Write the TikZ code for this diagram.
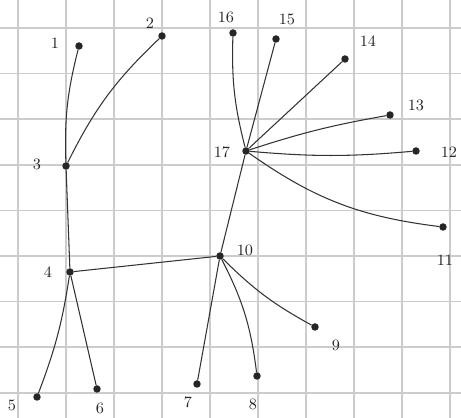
\documentclass[tikz,border=0pt]{standalone}
\usetikzlibrary{positioning}
\begin{document}
\begin{tikzpicture}[x=0.02cm,y=-0.02cm]
\tikzset{
  treenode/.style={circle,fill=black!85,inner sep=0pt,minimum size=1.5mm},
  treeedge/.style={draw=black!80,line width=0.6pt,line cap=round},
  nodelabel/.style={font=\small,text=black!85,inner sep=1pt},
  gridline/.style={draw=black!20,line width=1pt}
}
\useasboundingbox (0,0) rectangle (461,418);
% squared paper
\foreach \gx in {18,66,114,162,210,258,306,354,402,450}
  \draw[gridline] (\gx,0) -- (\gx,418);
\foreach \gy in {28,73.6,119.2,164.8,210.4,256,301.6,347.2,392.8}
  \draw[gridline] (0,\gy) -- (461,\gy);
% vertices
\node[treenode] (n_1) at (79,46) {};
\node[treenode] (n_2) at (162,36) {};
\node[treenode] (n_3) at (66,166) {};
\node[treenode] (n_4) at (70,272) {};
\node[treenode] (n_5) at (37,397) {};
\node[treenode] (n_6) at (97,389) {};
\node[treenode] (n_7) at (197,384) {};
\node[treenode] (n_8) at (257,376) {};
\node[treenode] (n_9) at (315,327) {};
\node[treenode] (n_10) at (220,256) {};
\node[treenode] (n_11) at (443,227) {};
\node[treenode] (n_12) at (416,151) {};
\node[treenode] (n_13) at (390,115) {};
\node[treenode] (n_14) at (345,59) {};
\node[treenode] (n_15) at (276,39) {};
\node[treenode] (n_16) at (233,33) {};
\node[treenode] (n_17) at (246,151) {};
% labels
\node[nodelabel] (l_1) at (55,43) {1};
\node[nodelabel] (l_2) at (150,23) {2};
\node[nodelabel] (l_3) at (37,164) {3};
\node[nodelabel] (l_4) at (48,272) {4};
\node[nodelabel] (l_5) at (12,405) {5};
\node[nodelabel] (l_6) at (100,408) {6};
\node[nodelabel] (l_7) at (188,402) {7};
\node[nodelabel] (l_8) at (253,404) {8};
\node[nodelabel] (l_9) at (336,345) {9};
\node[nodelabel] (l_10) at (245,250) {10};
\node[nodelabel] (l_11) at (445,260) {11};
\node[nodelabel] (l_12) at (449,152) {12};
\node[nodelabel] (l_13) at (416,105) {13};
\node[nodelabel] (l_14) at (368,41) {14};
\node[nodelabel] (l_15) at (287,19) {15};
\node[nodelabel] (l_16) at (226,17) {16};
\node[nodelabel] (l_17) at (222,152) {17};
% edges
\draw[treeedge] (n_1) to[bend right=8] (n_3);
\draw[treeedge] (n_2) to[bend right=10] (n_3);
\draw[treeedge] (n_3) -- (n_4);
\draw[treeedge] (n_4) to[bend left=6] (n_5);
\draw[treeedge] (n_4) -- (n_6);
\draw[treeedge] (n_4) -- (n_10);
\draw[treeedge] (n_10) -- (n_7);
\draw[treeedge] (n_10) to[bend left=10] (n_8);
\draw[treeedge] (n_10) to[bend right=8] (n_9);
\draw[treeedge] (n_10) -- (n_17);
\draw[treeedge] (n_17) to[bend right=14] (n_11);
\draw[treeedge] (n_17) to[bend right=5] (n_12);
\draw[treeedge] (n_17) to[bend left=4] (n_13);
\draw[treeedge] (n_17) -- (n_14);
\draw[treeedge] (n_17) -- (n_15);
\draw[treeedge] (n_17) to[bend left=8] (n_16);
\end{tikzpicture}
\end{document}
